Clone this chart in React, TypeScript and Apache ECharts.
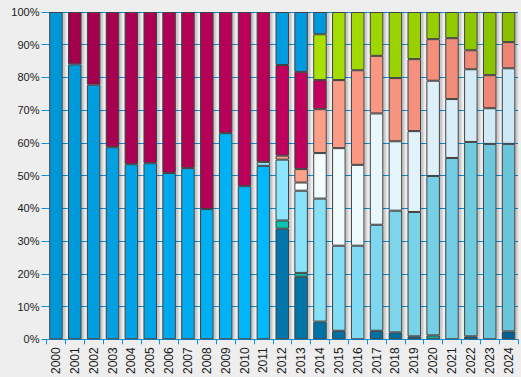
import React, { useEffect, useRef } from "react";
import * as echarts from "echarts";

const years = ["2000","2001","2002","2003","2004","2005","2006","2007","2008","2009","2010","2011","2012","2013","2014","2015","2016","2017","2018","2019","2020","2021","2022","2023","2024"];

const blueBottom = [100, 84.0, 77.8, 58.7, 53.5, 53.8, 50.8, 52.3, 39.8, 63.0, 46.8, 53.0, 0, 0, 0, 0, 0, 0, 0, 0, 0, 0, 0, 0, 0];
const darkBlue   = [0, 0, 0, 0, 0, 0, 0, 0, 0, 0, 0, 0, 33.8, 19.1, 5.4, 2.6, 0, 2.6, 2.1, 0.9, 0, 0, 0.9, 0, 2.4];
const teal       = [0, 0, 0, 0, 0, 0, 0, 0, 0, 0, 0, 0, 2.5, 1.2, 0, 0, 0, 0, 0, 0, 1.2, 0, 0, 0, 0];
const lightBlue  = [0, 0, 0, 0, 0, 0, 0, 0, 0, 0, 0, 1.2, 18.6, 25.1, 37.6, 26.0, 28.6, 32.4, 37.2, 38.0, 48.7, 55.4, 59.4, 59.7, 57.3];
const paleCyan   = [0, 0, 0, 0, 0, 0, 0, 0, 0, 0, 0, 0, 0, 2.5, 13.9, 29.8, 24.7, 34.0, 21.2, 24.7, 29.1, 18.0, 22.2, 10.9, 23.1];
const salmon     = [0, 0, 0, 0, 0, 0, 0, 0, 0, 0, 0, 0, 1.2, 4.1, 13.4, 20.8, 28.9, 17.6, 19.3, 22.0, 12.7, 18.6, 5.8, 10.1, 8.0];
const crimson    = [0, 16.0, 22.2, 41.3, 46.5, 46.2, 49.2, 47.7, 60.2, 37.0, 53.2, 45.8, 27.7, 29.7, 8.9, 0, 0, 0, 0, 0, 0, 0, 0, 0, 0];
const green      = [0, 0, 0, 0, 0, 0, 0, 0, 0, 0, 0, 0, 0, 0, 14.0, 20.8, 17.8, 13.4, 20.2, 14.4, 8.3, 8.0, 11.7, 19.3, 9.2];
const blueTop    = [0, 0, 0, 0, 0, 0, 0, 0, 0, 0, 0, 0, 16.2, 18.3, 6.8, 0, 0, 0, 0, 0, 0, 0, 0, 0, 0];

const yTicks = [0, 10, 20, 30, 40, 50, 60, 70, 80, 90, 100];

function hexToRgb(h: string) {
  const n = parseInt(h.slice(1), 16);
  return [(n >> 16) & 255, (n >> 8) & 255, n & 255];
}
function mix(a: string, b: string, t: number) {
  const A = hexToRgb(a), B = hexToRgb(b);
  const c = A.map((v, i) => Math.round(v + (B[i] - v) * t));
  return `rgb(${c[0]},${c[1]},${c[2]})`;
}

export default function App() {
  const ref = useRef<HTMLDivElement>(null);
  useEffect(() => {
    if (!ref.current) return;
    const chart = echarts.init(ref.current, undefined, { renderer: "svg" });
    const defs: [string, number[], string, string][] = [
      ["Blue A", blueBottom, "#0097d8", "#00b8fc"],
      ["Dark blue", darkBlue, "#0076aa", "#006494"],
      ["Teal", teal, "#08c4b4", "#12aaa2"],
      ["Light blue", lightBlue, "#8ee8ff", "#6ac4da"],
      ["Pale cyan", paleCyan, "#f8ffff", "#cde8f6"],
      ["Salmon", salmon, "#ffa48c", "#ee8474"],
      ["Crimson", crimson, "#a2004e", "#c4005e"],
      ["Green", green, "#a8e000", "#88c000"],
      ["Blue B", blueTop, "#009ce0", "#0098dc"],
    ];
    const series = defs.map(([name, data, c0, c1]) => {
      const idx = data.map((v, i) => (v > 0 ? i : -1)).filter((i) => i >= 0);
      const first = idx[0];
      const last = idx[idx.length - 1];
      const span = Math.max(1, last - first);
      return {
        name,
        type: "bar",
        stack: "total",
        barWidth: 13.5,
        data: data.map((v) => (v > 0 ? v : "-")),
        itemStyle: {
          color: (p: any) => mix(c0, c1, (p.dataIndex - first) / span),
          borderColor: "#424242",
          borderWidth: 1,
          shadowColor: "rgba(0,0,0,0.16)",
          shadowOffsetX: 2.5,
          shadowOffsetY: 0,
          shadowBlur: 0,
        },
      };
    });
    chart.setOption({
      animation: false,
      backgroundColor: "#eeeeee",
      grid: { left: 46.5, right: 3, top: 12, bottom: 37, containLabel: false },
      xAxis: {
        type: "category",
        data: years,
        boundaryGap: true,
        axisLine: { show: true, lineStyle: { color: "#0a90dc", width: 1 } },
        axisTick: { show: true, interval: 0, length: 5, lineStyle: { color: "#0a90dc" } },
        axisLabel: {
          interval: 0,
          rotate: 90,
          margin: 8,
          color: "#1a1a1a",
          fontSize: 12,
          fontFamily: "'Liberation Sans Narrow', 'Arial Narrow', 'Liberation Sans', Arial, sans-serif",
        },
      },
      yAxis: {
        type: "value",
        min: yTicks[0],
        max: yTicks[yTicks.length - 1],
        interval: 10,
        axisLine: { show: false },
        axisTick: { show: true, length: 5, lineStyle: { color: "#0a90dc" } },
        splitLine: { show: true, lineStyle: { color: "#0a90dc", width: 1 } },
        axisLabel: {
          formatter: "{value}%",
          margin: 7,
          color: "#1a1a1a",
          fontSize: 11,
          fontFamily: "'Liberation Sans', Arial, sans-serif",
        },
      },
      series,
    });
    return () => chart.dispose();
  }, []);
  return <div ref={ref} style={{ width: 521, height: 377, position: "absolute", left: 0, top: 0 }} />;
}
